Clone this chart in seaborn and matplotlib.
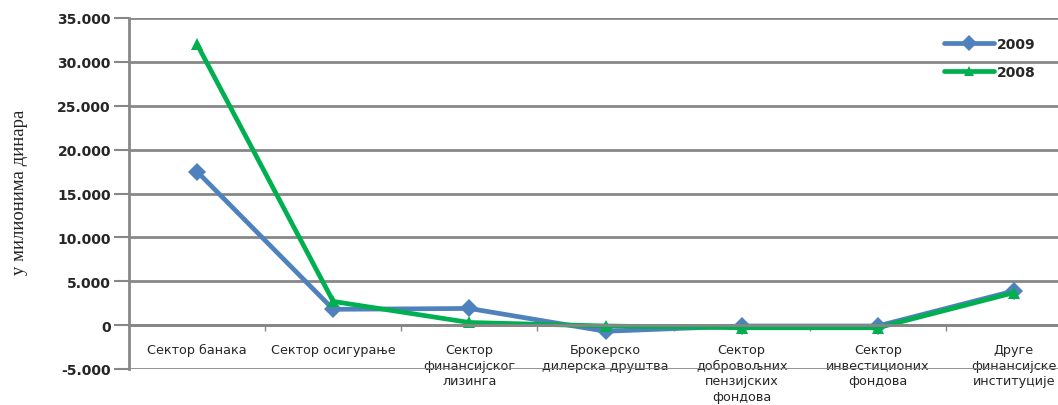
import pandas as pd
import matplotlib
matplotlib.use('Agg')
import matplotlib.pyplot as plt
import seaborn as sns
from matplotlib.ticker import FuncFormatter, FixedLocator

sns.set_style('white')
plt.rcParams['font.family'] = ['DejaVu Sans']

# categories and values (millions of dinars)
categories = ['Сектор банака', 'Сектор осигурање', 'Сектор\nфинансијског\nлизинга',
              'Брокерско\nдилерска друштва', 'Сектор\nдобровољних\nпензијских\nфондова',
              'Сектор\nинвестиционих\nфондова', 'Друге\nфинансијске\nинституције']
values_2009 = [17500, 1800, 1900, -700, -100, -100, 3900]
values_2008 = [32000, 2700, 300, -100, -300, -300, 3700]
years = ['2009', '2008']

df = pd.DataFrame({
    'pos': list(range(len(categories))) * 2,
    'value': values_2009 + values_2008,
    'year': [years[0]] * len(categories) + [years[1]] * len(categories),
})

W, H = 1058, 406
fig = plt.figure(figsize=(W / 100, H / 100), dpi=100)
# plot area runs past the right edge, as in the reference (clipped chart)
ax = fig.add_axes([129 / W, 1 - 370 / H, 953 / W, 351 / H])

sns.lineplot(data=df, x='pos', y='value', hue='year', style='year',
             hue_order=years, style_order=years,
             palette={'2009': '#4F81BD', '2008': '#00B050'},
             markers={'2009': 'D', '2008': '^'}, dashes=False,
             linewidth=3.4, markersize=9, markeredgewidth=0, ax=ax)

ax.set_xlim(-0.5, len(categories) - 0.5)
ax.set_ylim(-5000, 35000)
ax.set_yticks(range(-5000, 35001, 5000))
ax.yaxis.set_major_formatter(FuncFormatter(lambda v, p: f'{int(v):,}'.replace(',', '.')))
ax.grid(axis='y', color='#878787', linewidth=2)
ax.grid(axis='x', visible=False)
ax.set_axisbelow(True)

for s in ['top', 'right']:
    ax.spines[s].set_visible(False)
ax.spines['left'].set_color('#878787')
ax.spines['left'].set_linewidth(2)
ax.spines['bottom'].set_position(('data', 0))
ax.spines['bottom'].set_color('#878787')
ax.spines['bottom'].set_linewidth(2)

ax.tick_params(axis='y', left=True, length=11, width=1.5, color='#878787',
               labelsize=10, pad=2)
for t in ax.get_yticklabels():
    t.set_fontweight('bold')

ax.set_xticks(range(len(categories)))
ax.set_xticklabels(categories, fontsize=9.2, linespacing=1.25, va='top')
ax.tick_params(axis='x', which='major', length=0, pad=13)
ax.xaxis.set_minor_locator(FixedLocator([i + 0.5 for i in range(len(categories) - 1)]))
ax.tick_params(axis='x', which='minor', bottom=True, length=4, width=1, color='#878787',
               direction='out')

ax.set_xlabel('')
ax.set_ylabel('')
fig.text(20 / W, 1 - 192 / H, 'у милионима динара', family='Liberation Serif',
         fontsize=13.5, rotation=90, ha='center', va='center', color='#222222')

leg = ax.legend(loc='center left', bbox_to_anchor=(931 / W, 1 - 59 / H),
                bbox_transform=fig.transFigure, frameon=False,
                handlelength=3.6, handletextpad=0.25, labelspacing=1.0,
                markerscale=0.85, prop={'weight': 'bold', 'size': 10})

plt.savefig('out.png', dpi=100)
